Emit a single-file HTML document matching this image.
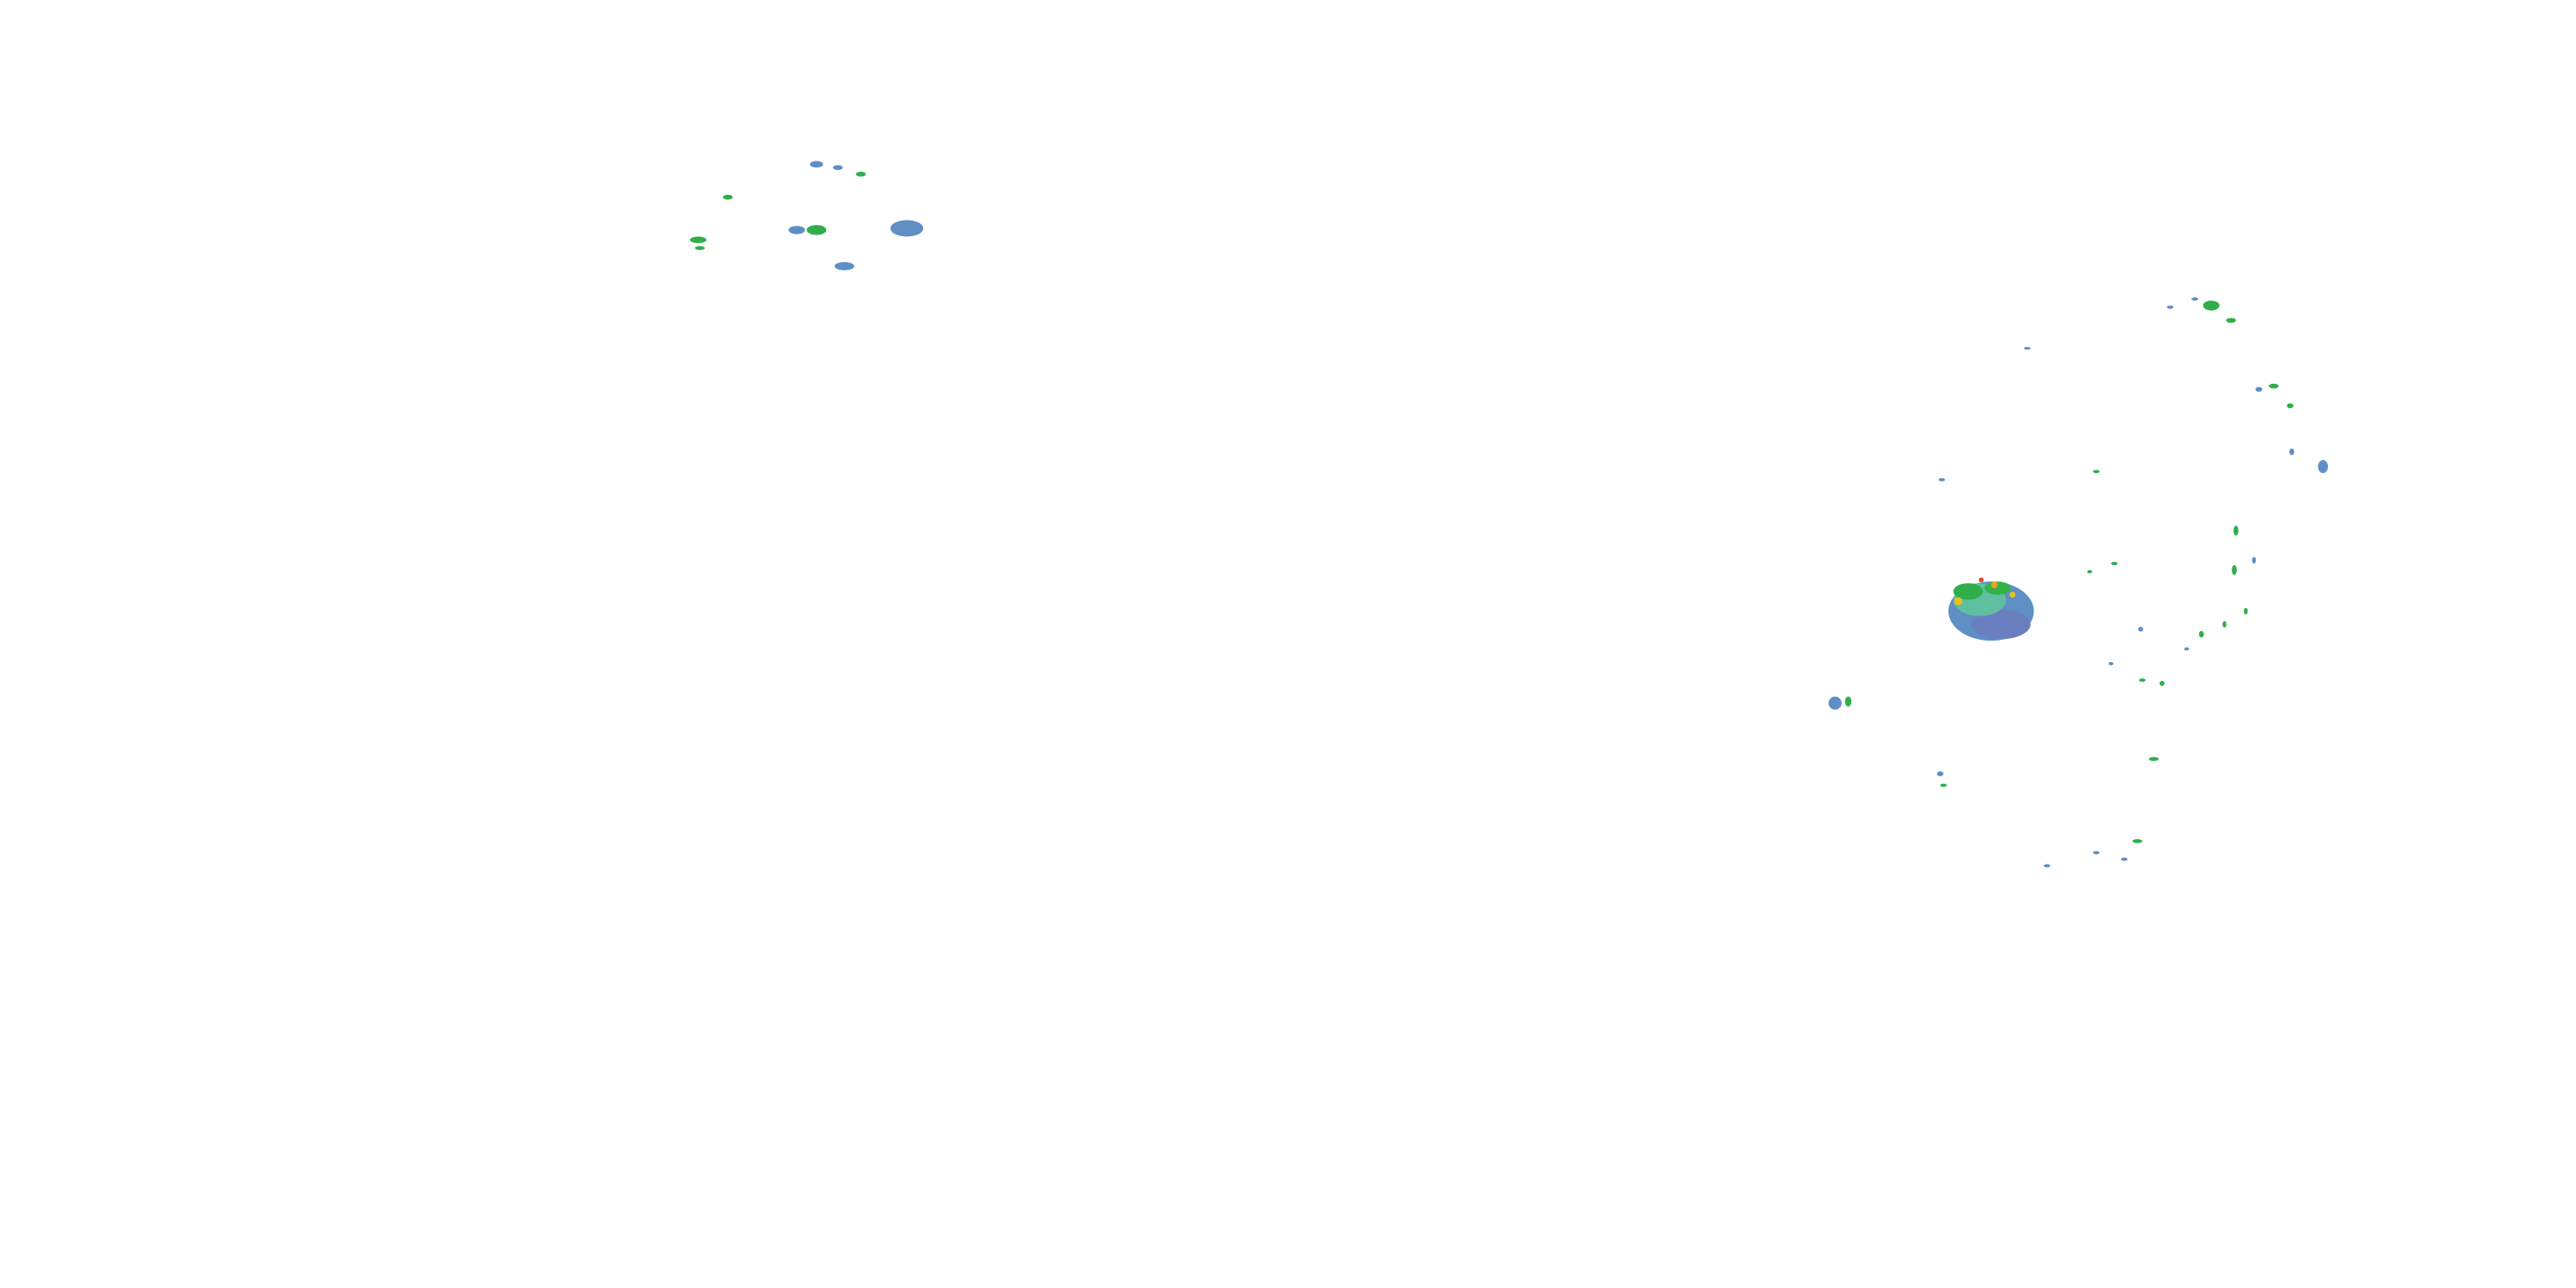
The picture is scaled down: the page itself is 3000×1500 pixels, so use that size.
<!DOCTYPE html>
<html><head><meta charset="utf-8"><style>
html,body{margin:0;padding:0;background:#fff;width:3000px;height:1500px;overflow:hidden}
svg{display:block}
</style></head><body>
<svg width="3000" height="1500" viewBox="0 0 1568 784" xmlns="http://www.w3.org/2000/svg">
<rect width="1568" height="784" fill="#fff"/>
<!-- main cluster -->
<g>
<ellipse cx="1212" cy="372" rx="26" ry="18" fill="#5f8fc4"/>
<ellipse cx="1218" cy="380" rx="18" ry="9" fill="#6a7fc0"/>
<ellipse cx="1205" cy="365" rx="16" ry="10" fill="#5fbfa0"/>
<ellipse cx="1198" cy="360" rx="9" ry="5" fill="#2fae4a"/>
<ellipse cx="1216" cy="358" rx="8" ry="4" fill="#33b24a"/>
<circle cx="1192" cy="366" r="2.5" fill="#e6c020"/>
<circle cx="1214" cy="356" r="2" fill="#f0a020"/>
<circle cx="1225" cy="362" r="1.8" fill="#e6c020"/>
<circle cx="1206" cy="353" r="1.5" fill="#e05020"/>
</g>
<!-- top-left cluster -->
<g fill="#5f8fc4">
<ellipse cx="552" cy="139" rx="10" ry="5"/>
<ellipse cx="514" cy="162" rx="6" ry="2.5"/>
<ellipse cx="485" cy="140" rx="5" ry="2.5"/>
<ellipse cx="497" cy="100" rx="4" ry="2"/>
<ellipse cx="510" cy="102" rx="3" ry="1.5"/>
</g>
<g fill="#2fae4a">
<ellipse cx="497" cy="140" rx="6" ry="3"/>
<ellipse cx="425" cy="146" rx="5" ry="2"/>
<ellipse cx="443" cy="120" rx="3" ry="1.5"/>
<ellipse cx="524" cy="106" rx="3" ry="1.5"/>
<ellipse cx="426" cy="151" rx="3" ry="1.2"/>
</g>
<!-- scattered echoes -->
<g fill="#2fae4a">
<ellipse cx="1346" cy="186" rx="5" ry="3"/>
<ellipse cx="1358" cy="195" rx="3" ry="1.5"/>
<ellipse cx="1384" cy="235" rx="3" ry="1.5"/>
<ellipse cx="1394" cy="247" rx="2" ry="1.5"/>
<ellipse cx="1361" cy="323" rx="1.5" ry="3"/>
<ellipse cx="1360" cy="347" rx="1.5" ry="3"/>
<ellipse cx="1125" cy="427" rx="2" ry="3"/>
<ellipse cx="1311" cy="462" rx="3" ry="1.2"/>
<ellipse cx="1301" cy="512" rx="3" ry="1.2"/>
<ellipse cx="1276" cy="287" rx="2" ry="1"/>
<ellipse cx="1304" cy="414" rx="2" ry="1"/>
<ellipse cx="1340" cy="386" rx="1.5" ry="2"/>
<ellipse cx="1354" cy="380" rx="1.2" ry="2"/>
<ellipse cx="1367" cy="372" rx="1.2" ry="2"/>
<ellipse cx="1287" cy="343" rx="2" ry="1"/>
<ellipse cx="1272" cy="348" rx="1.5" ry="1"/>
<ellipse cx="1316" cy="416" rx="1.5" ry="1.5"/>
<ellipse cx="1183" cy="478" rx="2" ry="1"/>
</g>
<g fill="#5f8fc4">
<ellipse cx="1414" cy="284" rx="3" ry="4"/>
<ellipse cx="1117" cy="428" rx="4" ry="4"/>
<ellipse cx="1181" cy="471" rx="2" ry="1.5"/>
<ellipse cx="1375" cy="237" rx="2" ry="1.5"/>
<ellipse cx="1246" cy="527" rx="2" ry="1"/>
<ellipse cx="1276" cy="519" rx="2" ry="1"/>
<ellipse cx="1293" cy="523" rx="2" ry="1"/>
<ellipse cx="1321" cy="187" rx="2" ry="1"/>
<ellipse cx="1336" cy="182" rx="2" ry="1"/>
<ellipse cx="1395" cy="275" rx="1.5" ry="2"/>
<ellipse cx="1303" cy="383" rx="1.5" ry="1.5"/>
<ellipse cx="1372" cy="341" rx="1.2" ry="2"/>
<ellipse cx="1182" cy="292" rx="2" ry="1"/>
<ellipse cx="1234" cy="212" rx="2" ry="0.8"/>
<ellipse cx="1285" cy="404" rx="1.5" ry="1"/>
<ellipse cx="1331" cy="395" rx="1.5" ry="1"/>
</g>
</svg>
</body></html>
